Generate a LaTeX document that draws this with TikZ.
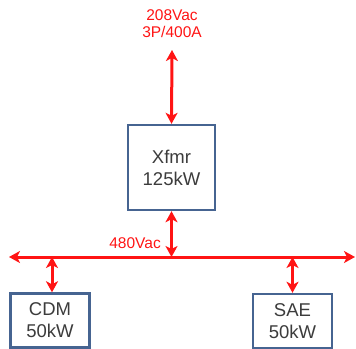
\documentclass[tikz,border=0pt]{standalone}
\usepackage{fontspec}
\setmainfont{Liberation Sans}
\usepackage{xcolor}
\usetikzlibrary{arrows.meta,positioning,calc}
\definecolor{pwrred}{RGB}{255,20,20}
\definecolor{boxblue}{RGB}{70,100,145}
\definecolor{txtgray}{RGB}{60,60,60}

\begin{document}
\begin{tikzpicture}[x=1pt,y=-1pt,>={Stealth[length=11pt,width=12pt,inset=3pt]},
  box/.style={draw=boxblue,line width=2.4pt,fill=white,text=txtgray,align=center,
    font=\fontsize{18.5}{22}\selectfont},
  pwr/.style={draw=pwrred,line width=3pt},
  lbl/.style={text=pwrred,align=center,font=\fontsize{15.5}{17}\selectfont,inner sep=0pt}]
  \useasboundingbox (0,0) rectangle (356,348);
  % transformer and loads
  \node[box,minimum width=87pt,minimum height=85pt] (xfmr) at (171.5,167.5) {Xfmr\\125kW};
  \node[box,minimum width=79pt,minimum height=54pt] (cdm) at (50,320.5) {CDM\\50kW};
  \node[box,minimum width=79pt,minimum height=54pt] (sae) at (292.5,321) {SAE\\50kW};
  % supply and bus
  \node[lbl] (src) at (172,24) {208Vac\\3P/400A};
  \coordinate (feed) at (172,50);
  \coordinate (busW) at (9,257);
  \coordinate (busE) at (355,257);
  \draw[pwr,<->] (feed) -- (xfmr.north);
  \draw[pwr,<->] (busW) -- (busE);
  \draw[pwr,<->] (xfmr.south) -- (xfmr.south |- busW);
  \node[lbl,anchor=east] (lv) at (161,243) {480Vac};
  \draw[pwr,<->] ($(cdm.north)+(2,0)$) -- ($(cdm.north |- busW)+(2,0)$);
  \draw[pwr,<->] (sae.north) -- (sae.north |- busW);
\end{tikzpicture}
\end{document}
